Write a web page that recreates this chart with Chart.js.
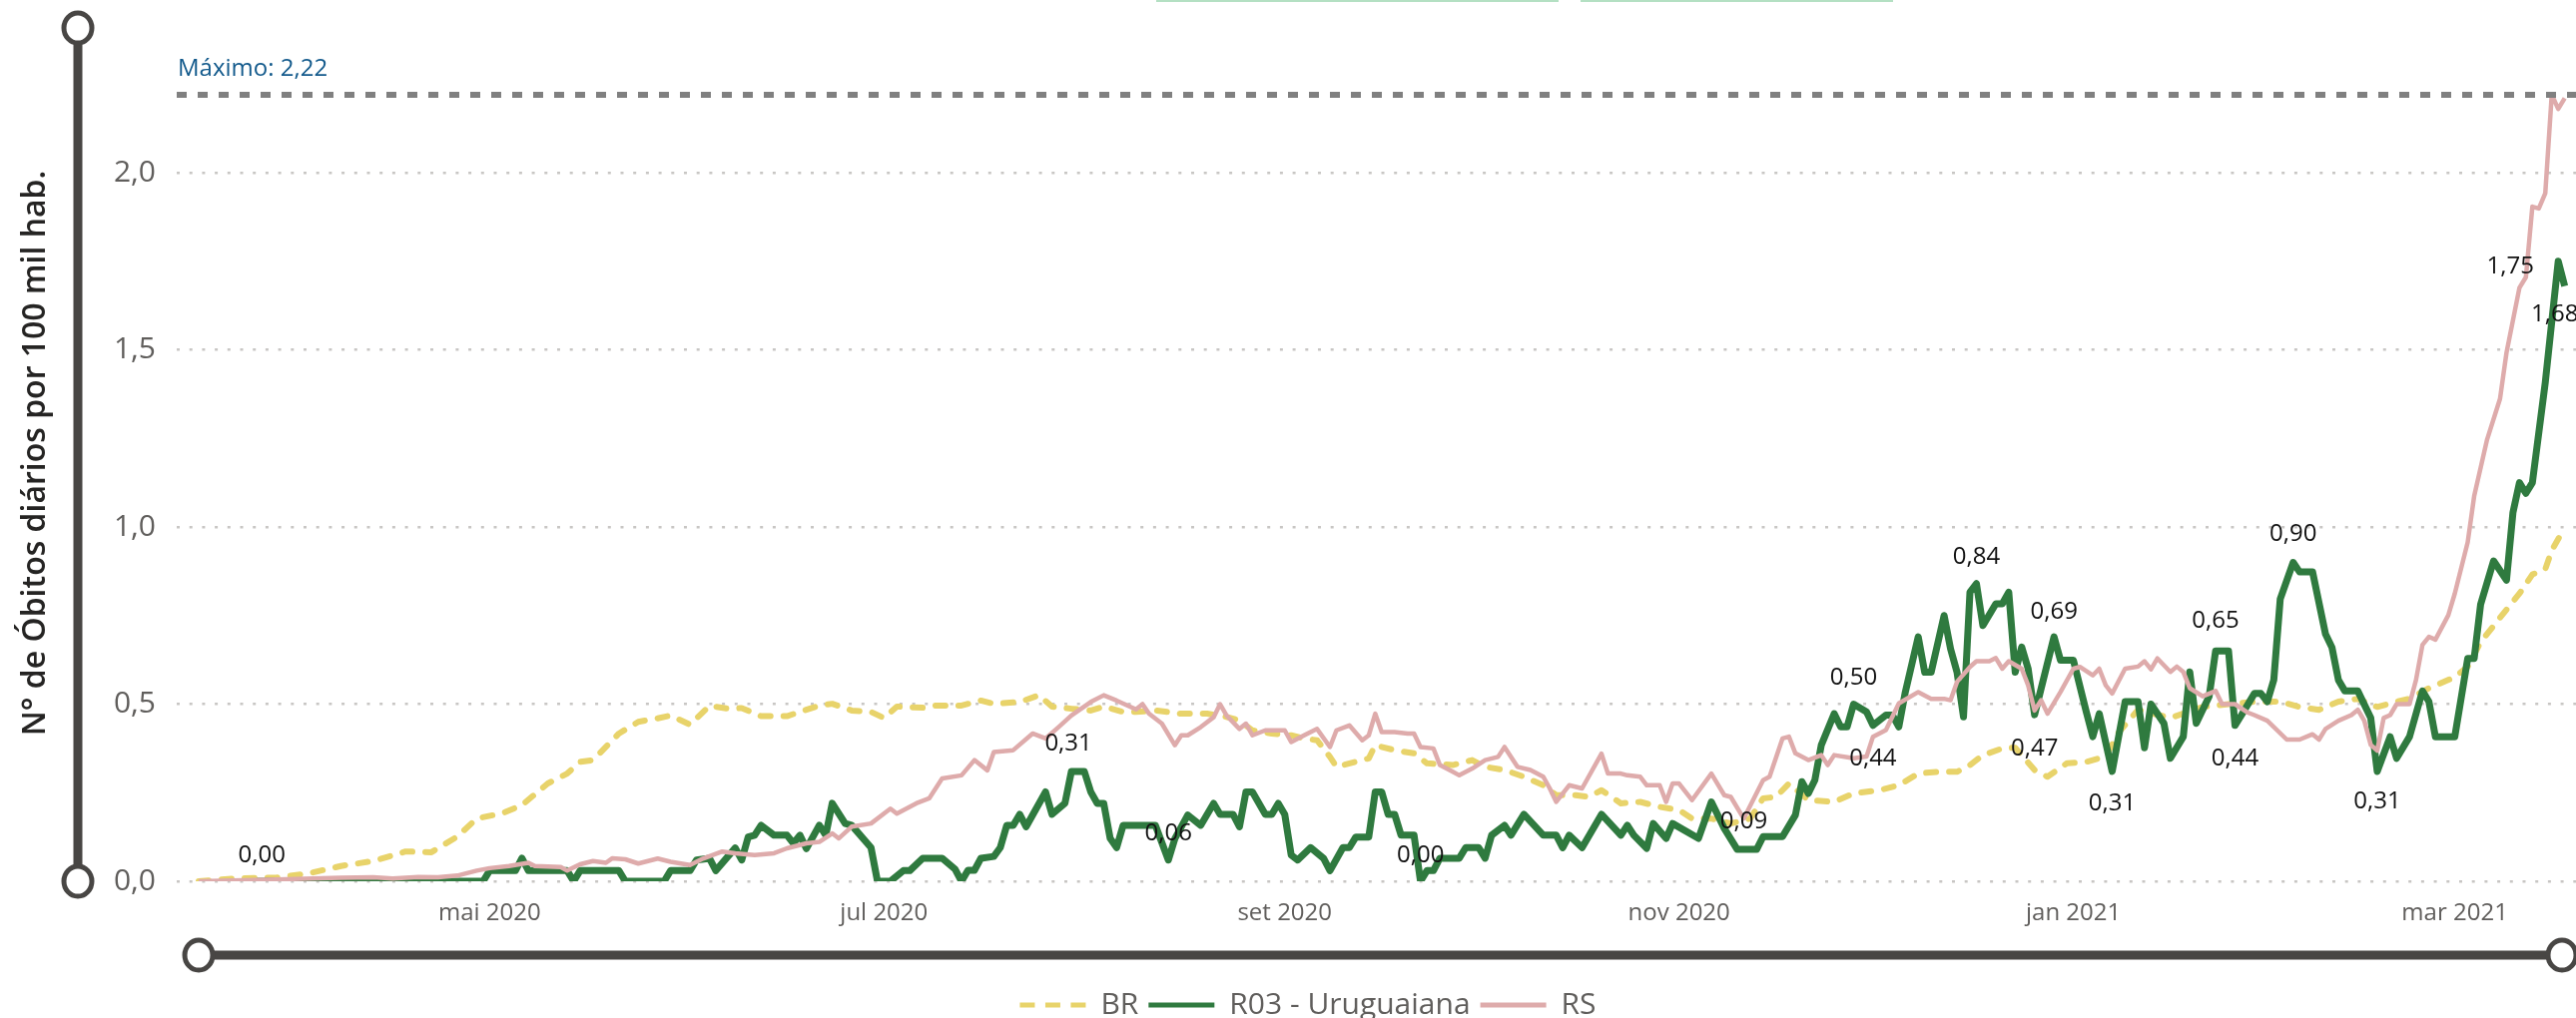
<!DOCTYPE html>
<html lang="pt-BR">
<head>
<meta charset="utf-8">
<title>Óbitos diários por 100 mil hab.</title>
<script src="https://cdn.jsdelivr.net/npm/chart.js@4.4.1/dist/chart.umd.min.js"></script>
<style>
    html, body { margin: 0; padding: 0; background: #ffffff; }
    canvas { display: block; }
</style>
</head>
<body>
<canvas id="grafico" width="2580" height="1020"></canvas>
<script>
// dia 0 do eixo = 09/03/2020 ; os dias abaixo contam a partir dele
const inicio = '2020-03-09';

const mesesTicks = ['2020-05-01', '2020-07-01', '2020-09-01', '2020-11-01', '2021-01-01', '2021-03-01'];
const rotulosMeses = ['mai 2020', 'jul 2020', 'set 2020', 'nov 2020', 'jan 2021', 'mar 2021'];

const diasBR = [8, 14, 20, 25, 30, 35, 40, 44, 48, 51, 55, 58, 62, 65, 67, 69, 73, 76, 79, 81, 84, 87, 90, 92, 95, 99,
    101, 104, 106, 109, 112, 114, 116, 120, 122, 126, 129, 131, 135, 138, 140, 143, 146, 148, 151, 153, 156, 160, 164,
    167, 169, 171, 174, 177, 179, 181, 183, 184, 188, 189, 190, 193, 196, 198, 202, 205, 207, 210, 213, 216, 218, 221,
    223, 225, 228, 231, 234, 237, 239, 242, 245, 248, 250, 252, 254, 257, 261, 264, 268, 271, 274, 277, 280, 282, 284,
    287, 289, 290, 292, 294, 297, 300, 303, 305, 308, 313, 318, 322, 326, 330, 333, 336, 339, 342, 345, 348, 350, 353,
    357, 359, 361, 364, 367, 369, 371, 372, 374];
const valoresBR = [0, 0.008, 0.01, 0.022, 0.043, 0.057, 0.084, 0.082, 0.126, 0.177, 0.192, 0.215, 0.276, 0.304, 0.337,
    0.342, 0.417, 0.45, 0.46, 0.468, 0.442, 0.495, 0.487, 0.489, 0.466, 0.466, 0.478, 0.496, 0.501, 0.482, 0.478, 0.461,
    0.493, 0.49, 0.496, 0.496, 0.51, 0.501, 0.506, 0.525, 0.493, 0.487, 0.482, 0.493, 0.478, 0.478, 0.482, 0.473, 0.473,
    0.464, 0.454, 0.426, 0.417, 0.412, 0.403, 0.398, 0.351, 0.323, 0.342, 0.347, 0.384, 0.37, 0.361, 0.333, 0.328, 0.342,
    0.323, 0.314, 0.295, 0.271, 0.243, 0.243, 0.238, 0.257, 0.22, 0.224, 0.21, 0.201, 0.177, 0.177, 0.163, 0.177, 0.234,
    0.238, 0.276, 0.229, 0.224, 0.248, 0.257, 0.271, 0.304, 0.309, 0.309, 0.328, 0.356, 0.375, 0.377, 0.356, 0.314, 0.295,
    0.333, 0.337, 0.352, 0.42, 0.484, 0.461, 0.492, 0.5, 0.507, 0.507, 0.492, 0.484, 0.507, 0.515, 0.492, 0.507, 0.515,
    0.545, 0.576, 0.606, 0.675, 0.744, 0.812, 0.866, 0.881, 0.934, 0.998];

const diasR03 = [17, 52, 53, 57, 58, 59, 65, 66, 67, 73, 74, 80, 81, 84, 85, 87, 88, 91, 92, 93, 94, 95, 97, 99, 100,
    101, 102, 104, 105, 106, 108, 109, 112, 113, 115, 117, 118, 120, 123, 125, 126, 127, 128, 129, 131, 132, 133, 134,
    135, 136, 139, 140, 142, 143, 145, 146, 147, 148, 149, 150, 151, 156, 158, 159, 161, 163, 165, 166, 168, 169, 170,
    171, 173, 174, 175, 176, 177, 178, 180, 182, 183, 185, 186, 187, 189, 190, 191, 192, 193, 194, 196, 197, 198, 199,
    200, 203, 204, 206, 207, 208, 210, 211, 213, 216, 218, 219, 220, 222, 225, 228, 229, 230, 232, 233, 235, 236, 240,
    242, 244, 246, 247, 249, 250, 253, 255, 256, 257, 258, 259, 261, 262, 263, 264, 266, 267, 269, 270, 271, 272, 274,
    275, 276, 278, 279, 280, 281, 282, 283, 284, 286, 287, 288, 289, 290, 291, 292, 295, 296, 298, 300, 301, 302, 304,
    306, 308, 309, 310, 312, 313, 315, 316, 317, 319, 320, 322, 323, 324, 326, 327, 328, 329, 330, 332, 333, 335, 337,
    338, 339, 340, 342, 344, 345, 347, 348, 350, 352, 353, 354, 357, 359, 360, 361, 363, 365, 366, 367, 368, 369, 371,
    373, 374];
const valoresR03 = [0, 0, 0.03, 0.03, 0.065, 0.03, 0.03, 0, 0.03, 0.03, 0, 0, 0.03, 0.03, 0.06, 0.065, 0.03, 0.094,
    0.06, 0.125, 0.13, 0.158, 0.13, 0.13, 0.107, 0.13, 0.092, 0.158, 0.13, 0.22, 0.163, 0.158, 0.095, 0, 0, 0.03, 0.03,
    0.065, 0.065, 0.034, 0, 0.031, 0.031, 0.065, 0.07, 0.095, 0.158, 0.158, 0.189, 0.154, 0.252, 0.189, 0.22, 0.31, 0.31,
    0.252, 0.22, 0.22, 0.121, 0.095, 0.158, 0.158, 0.06, 0.12, 0.187, 0.158, 0.22, 0.189, 0.189, 0.154, 0.252, 0.252,
    0.189, 0.189, 0.22, 0.189, 0.074, 0.06, 0.095, 0.065, 0.03, 0.095, 0.095, 0.125, 0.125, 0.252, 0.252, 0.189, 0.189,
    0.13, 0.13, 0, 0.03, 0.03, 0.065, 0.065, 0.095, 0.095, 0.065, 0.13, 0.158, 0.13, 0.189, 0.13, 0.13, 0.095, 0.13,
    0.095, 0.189, 0.13, 0.158, 0.13, 0.093, 0.163, 0.121, 0.163, 0.121, 0.224, 0.149, 0.09, 0.09, 0.09, 0.126, 0.126,
    0.187, 0.281, 0.248, 0.285, 0.384, 0.473, 0.436, 0.436, 0.5, 0.478, 0.44, 0.469, 0.469, 0.436, 0.534, 0.69, 0.59,
    0.59, 0.75, 0.656, 0.59, 0.464, 0.816, 0.84, 0.722, 0.783, 0.783, 0.816, 0.59, 0.661, 0.6, 0.47, 0.69, 0.624, 0.624,
    0.478, 0.408, 0.473, 0.31, 0.507, 0.507, 0.377, 0.5, 0.446, 0.347, 0.408, 0.591, 0.446, 0.522, 0.65, 0.65, 0.44,
    0.469, 0.53, 0.53, 0.507, 0.568, 0.797, 0.9, 0.873, 0.873, 0.698, 0.66, 0.568, 0.537, 0.537, 0.461, 0.31, 0.408,
    0.347, 0.408, 0.537, 0.507, 0.408, 0.408, 0.629, 0.629, 0.782, 0.904, 0.85, 1.041, 1.125, 1.095, 1.125, 1.408, 1.75,
    1.68];

const diasRS = [8, 20, 30, 35, 38, 42, 45, 48, 51, 53, 56, 59, 60, 64, 65, 67, 69, 71, 72, 74, 76, 79, 81, 84, 86, 89,
    91, 94, 97, 99, 102, 104, 106, 107, 109, 112, 115, 116, 119, 121, 123, 126, 128, 130, 131, 134, 137, 139, 141, 143,
    146, 148, 150, 153, 154, 155, 157, 159, 160, 161, 163, 165, 166, 167, 169, 170, 171, 173, 176, 177, 179, 181, 183,
    184, 186, 188, 189, 190, 191, 193, 195, 196, 197, 199, 200, 202, 203, 205, 207, 209, 210, 212, 214, 216, 217, 218,
    220, 222, 225, 226, 228, 229, 231, 232, 234, 235, 236, 237, 239, 242, 244, 245, 247, 250, 251, 253, 254, 255, 257,
    259, 260, 261, 264, 266, 267, 269, 271, 274, 276, 278, 279, 280, 282, 283, 285, 286, 287, 288, 290, 291, 292, 293,
    294, 296, 298, 299, 301, 302, 303, 304, 306, 308, 309, 310, 311, 313, 314, 315, 316, 318, 320, 321, 323, 325, 326,
    328, 331, 333, 335, 336, 337, 339, 341, 342, 343, 344, 345, 346, 347, 348, 350, 351, 352, 353, 354, 356, 357, 359,
    360, 362, 364, 365, 367, 368, 369, 370, 371, 372, 373, 374];
const valoresRS = [0, 0.005, 0.01, 0.011, 0.008, 0.012, 0.011, 0.016, 0.03, 0.037, 0.043, 0.052, 0.043, 0.04, 0.03,
    0.048, 0.057, 0.052, 0.065, 0.062, 0.05, 0.064, 0.055, 0.046, 0.064, 0.084, 0.079, 0.074, 0.079, 0.093, 0.107, 0.111,
    0.135, 0.121, 0.154, 0.163, 0.205, 0.191, 0.22, 0.234, 0.29, 0.299, 0.342, 0.313, 0.365, 0.37, 0.417, 0.403, 0.435,
    0.468, 0.506, 0.525, 0.51, 0.485, 0.5, 0.473, 0.445, 0.384, 0.412, 0.412, 0.435, 0.463, 0.5, 0.468, 0.43, 0.445,
    0.412, 0.426, 0.426, 0.393, 0.412, 0.43, 0.379, 0.426, 0.44, 0.398, 0.412, 0.473, 0.421, 0.421, 0.417, 0.417, 0.379,
    0.375, 0.328, 0.309, 0.299, 0.318, 0.342, 0.351, 0.379, 0.323, 0.314, 0.295, 0.262, 0.224, 0.271, 0.262, 0.36, 0.304,
    0.304, 0.299, 0.295, 0.271, 0.271, 0.224, 0.276, 0.276, 0.229, 0.304, 0.243, 0.238, 0.177, 0.285, 0.295, 0.403,
    0.408, 0.361, 0.342, 0.356, 0.328, 0.356, 0.347, 0.352, 0.408, 0.427, 0.502, 0.534, 0.515, 0.515, 0.511, 0.563,
    0.605, 0.621, 0.621, 0.63, 0.6, 0.621, 0.6, 0.553, 0.482, 0.511, 0.473, 0.534, 0.6, 0.605, 0.581, 0.6, 0.553, 0.53,
    0.6, 0.606, 0.621, 0.598, 0.629, 0.591, 0.606, 0.591, 0.545, 0.522, 0.537, 0.5, 0.5, 0.476, 0.469, 0.453, 0.4, 0.4,
    0.415, 0.4, 0.43, 0.453, 0.469, 0.484, 0.453, 0.385, 0.369, 0.461, 0.469, 0.5, 0.5, 0.568, 0.667, 0.69, 0.682, 0.751,
    0.812, 0.957, 1.087, 1.247, 1.362, 1.492, 1.675, 1.705, 1.904, 1.899, 1.942, 2.22, 2.18, 2.21];

// rótulos de dados da série R03 (dias) e o deslocamento do texto em relação ao ponto
const rotulosR03 = [17, 143, 158, 197, 247, 264, 267, 283, 292, 295, 304, 320, 323, 332, 345, 373, 374];
const deslocRotulos = [[5, -26], [-3, -28], [0, -27], [0, -26], [0, -28], [0, -26], [0, 33], [0, -27], [0, 34],
    [0, -25], [0, 32], [0, -30], [0, 33], [0, -28], [0, 30], [-48, 5], [-10, 29]];

function diaDe(iso) {
    return Math.round((Date.parse(iso) - Date.parse(inicio)) / 86400000);
}

function pontos(dias, valores) {
    var lista = [];
    for (var i = 0; i < dias.length; i++) {
        lista.push({ x: dias[i], y: valores[i] });
    }
    return lista;
}

function virgula(v, casas) {
    return v.toFixed(casas).replace('.', ',');
}

const diasMeses = mesesTicks.map(diaDe);
const maximo = Math.max.apply(null, valoresRS);

Chart.defaults.font.family = "'Open Sans', 'Noto Sans', sans-serif";

// sliders de zoom do Power BI e detalhes fora da área do gráfico
const decoracao = {
    id: 'decoracao',
    afterDraw: (chart) => {
        const ctx = chart.ctx;
        const area = chart.chartArea;
        const y0 = chart.scales.y.getPixelForValue(0);
        const xv = area.left - 99;
        const yTopo = area.top + 3;
        const yh = area.bottom + 74;
        const xIni = chart.scales.x.getPixelForValue(diasBR[0]);
        const xFim = chart.width - 14;
        ctx.save();
        ctx.fillStyle = '#b4e0c3';
        ctx.fillRect(1158, 0, 403, 2);
        ctx.fillRect(1583, 0, 313, 2);
        ctx.strokeStyle = '#484644';
        ctx.lineWidth = 9;
        ctx.beginPath();
        ctx.moveTo(xv, yTopo);
        ctx.lineTo(xv, y0);
        ctx.moveTo(xIni, yh);
        ctx.lineTo(xFim, yh);
        ctx.stroke();
        ctx.lineWidth = 5;
        ctx.fillStyle = '#ffffff';
        [[xv, yTopo], [xv, y0], [xIni, yh], [xFim, yh]].forEach(function (c) {
            ctx.beginPath();
            ctx.ellipse(c[0], c[1], 14, 15, 0, 0, Math.PI * 2);
            ctx.fill();
            ctx.stroke();
        });
        ctx.restore();
    }
};

// linha tracejada do valor máximo
const linhaMaximo = {
    id: 'linhaMaximo',
    afterDatasetsDraw: (chart) => {
        const ctx = chart.ctx;
        const area = chart.chartArea;
        const y = chart.scales.y.getPixelForValue(maximo);
        ctx.save();
        ctx.beginPath();
        ctx.setLineDash([10, 11]);
        ctx.moveTo(area.left, y);
        ctx.lineTo(area.right, y);
        ctx.strokeStyle = '#808080';
        ctx.lineWidth = 6;
        ctx.stroke();
        ctx.setLineDash([]);
        ctx.font = "24px 'Open Sans', 'Noto Sans', sans-serif";
        ctx.fillStyle = '#135a8c';
        ctx.textBaseline = 'middle';
        ctx.textAlign = 'left';
        ctx.fillText('Máximo: ' + virgula(maximo, 2), area.left + 1, y - 26);
        ctx.restore();
    }
};

// rótulos de dados da série R03
const rotulos = {
    id: 'rotulos',
    afterDatasetsDraw: (chart) => {
        const ctx = chart.ctx;
        const meta = chart.getDatasetMeta(1);
        ctx.save();
        ctx.font = "24px 'Open Sans', 'Noto Sans', sans-serif";
        ctx.fillStyle = '#111111';
        ctx.textAlign = 'center';
        ctx.textBaseline = 'middle';
        for (var i = 0; i < rotulosR03.length; i++) {
            var idx = diasR03.indexOf(rotulosR03[i]);
            if (idx < 0) continue;
            var p = meta.data[idx];
            ctx.fillText(virgula(valoresR03[idx], 2), p.x + deslocRotulos[i][0], p.y + deslocRotulos[i][1]);
        }
        ctx.restore();
    }
};

const data = {
    datasets: [{
        label: 'BR',
        data: pontos(diasBR, valoresBR),
        borderColor: '#e8d36a',
        backgroundColor: '#e8d36a',
        borderWidth: 6,
        borderDash: [10, 13],
        borderCapStyle: 'round',
        borderJoinStyle: 'round',
        pointRadius: 0,
        order: 2
    }, {
        label: 'R03 - Uruguaiana',
        data: pontos(diasR03, valoresR03),
        borderColor: '#2f7a3f',
        backgroundColor: '#2f7a3f',
        borderWidth: 7,
        borderJoinStyle: 'round',
        pointRadius: 0,
        order: 1
    }, {
        label: 'RS',
        data: pontos(diasRS, valoresRS),
        borderColor: '#deabab',
        backgroundColor: '#deabab',
        borderWidth: 4.5,
        borderJoinStyle: 'round',
        pointRadius: 0,
        order: 0
    }]
};

const config = {
    type: 'line',
    data: data,
    options: {
        responsive: false,
        animation: false,
        layout: {
            // 40px à esquerda deslocam a legenda para a direita, como no original
            padding: { top: 25, right: 0, bottom: -12, left: 40 }
        },
        scales: {
            x: {
                type: 'linear',
                min: 4.6,
                max: 375.75,
                grid: { display: false },
                border: { display: false },
                afterBuildTicks: (escala) => {
                    escala.ticks = diasMeses.map(function (d) { return { value: d }; });
                },
                afterFit: (escala) => { escala.height = 99; },
                ticks: {
                    autoSkip: false,
                    maxRotation: 0,
                    padding: 10,
                    color: '#605e5c',
                    font: { size: 24 },
                    callback: function (valor, i) { return rotulosMeses[i]; }
                }
            },
            y: {
                min: 0,
                max: 858 / 355,
                grid: { color: '#c8c6c4', lineWidth: 2.5, drawTicks: false },
                border: { display: false, dash: [3, 9.7] },
                afterBuildTicks: (escala) => {
                    escala.ticks = [0, 0.5, 1, 1.5, 2].map(function (v) { return { value: v }; });
                },
                afterFit: (escala) => {
                    escala.width = 137;
                    escala.paddingTop = 0;
                    escala.paddingBottom = 0;
                },
                ticks: {
                    padding: 21,
                    color: '#605e5c',
                    font: { size: 30 },
                    callback: function (valor) { return virgula(valor, 1); }
                },
                title: {
                    display: true,
                    text: 'N° de Óbitos diários por 100 mil hab.',
                    color: '#252423',
                    font: { size: 32, weight: '600' },
                    padding: { top: -23, bottom: 0 }
                }
            }
        },
        plugins: {
            legend: {
                position: 'bottom',
                reverse: true,
                labels: {
                    color: '#605e5c',
                    font: { size: 30 },
                    padding: 10,
                    usePointStyle: true,
                    pointStyleWidth: 66,
                    generateLabels: function (chart) {
                        var itens = Chart.defaults.plugins.legend.labels.generateLabels(chart);
                        itens.forEach(function (it) {
                            it.pointStyle = 'line';
                            it.lineWidth = 5;
                            it.lineCap = 'butt';
                            it.lineDash = chart.data.datasets[it.datasetIndex].borderDash ? [15, 10.5] : [];
                        });
                        return itens;
                    }
                }
            },
            tooltip: { enabled: false }
        }
    },
    plugins: [decoracao, linhaMaximo, rotulos]
};

const grafico = new Chart(document.getElementById('grafico').getContext('2d'), config);
</script>
</body>
</html>
